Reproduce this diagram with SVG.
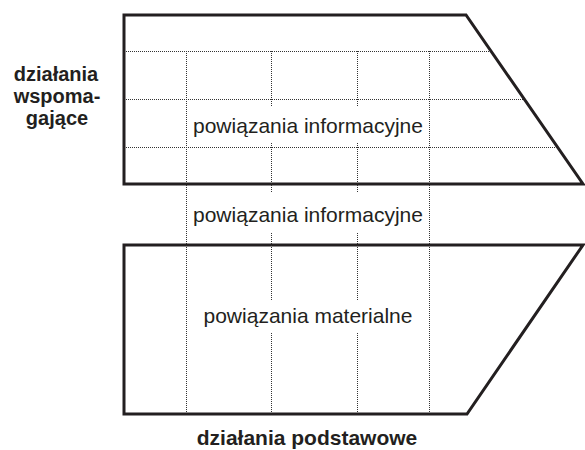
<svg xmlns="http://www.w3.org/2000/svg" width="585" height="450" viewBox="0 0 585 450">
<style>
.shape{fill:none;stroke:#231f20;stroke-width:3;stroke-linejoin:miter}
.dot{stroke:#333;stroke-width:1;stroke-dasharray:1 1;fill:none}
.t{font-family:"Liberation Sans",Arial,sans-serif;fill:#231f20;text-anchor:middle}
.n{font-size:21px}
.b{font-size:20px;font-weight:bold}
</style>
<rect width="585" height="450" fill="#fff"/>
<g id="connectors">
<line class="dot" x1="124" y1="51.5" x2="491" y2="51.5"/>
<line class="dot" x1="124" y1="99.5" x2="524" y2="99.5"/>
<line class="dot" x1="124" y1="147.5" x2="557" y2="147.5"/>
<line class="dot" x1="186.5" y1="51" x2="186.5" y2="414"/>
<line class="dot" x1="429.5" y1="51" x2="429.5" y2="414"/>
<path class="dot" d="M271.5 51V107M271.5 143V193M271.5 233V300M271.5 333V414"/>
<path class="dot" d="M357.5 51V107M357.5 143V193M357.5 233V300M357.5 333V414"/>
</g>
<g id="wspomagajace">
<polygon class="shape" points="124,15 466,15 583,184 124,184"/>
<text class="t n" x="308" y="133">powiązania informacyjne</text>
</g>
<g id="info-link">
<text class="t n" x="308" y="222">powiązania informacyjne</text>
</g>
<g id="podstawowe">
<polygon class="shape" points="124,245 583,245 467,414 124,414"/>
<text class="t n" x="308" y="323">powiązania materialne</text>
</g>
<g id="label-left">
<text class="t b" x="56" y="81">działania</text>
<text class="t b" x="57" y="103">wspoma-</text>
<text class="t b" x="57" y="125">gające</text>
</g>
<g id="label-bottom">
<text class="t b" x="307" y="445" style="font-size:21px">działania podstawowe</text>
</g>
</svg>
